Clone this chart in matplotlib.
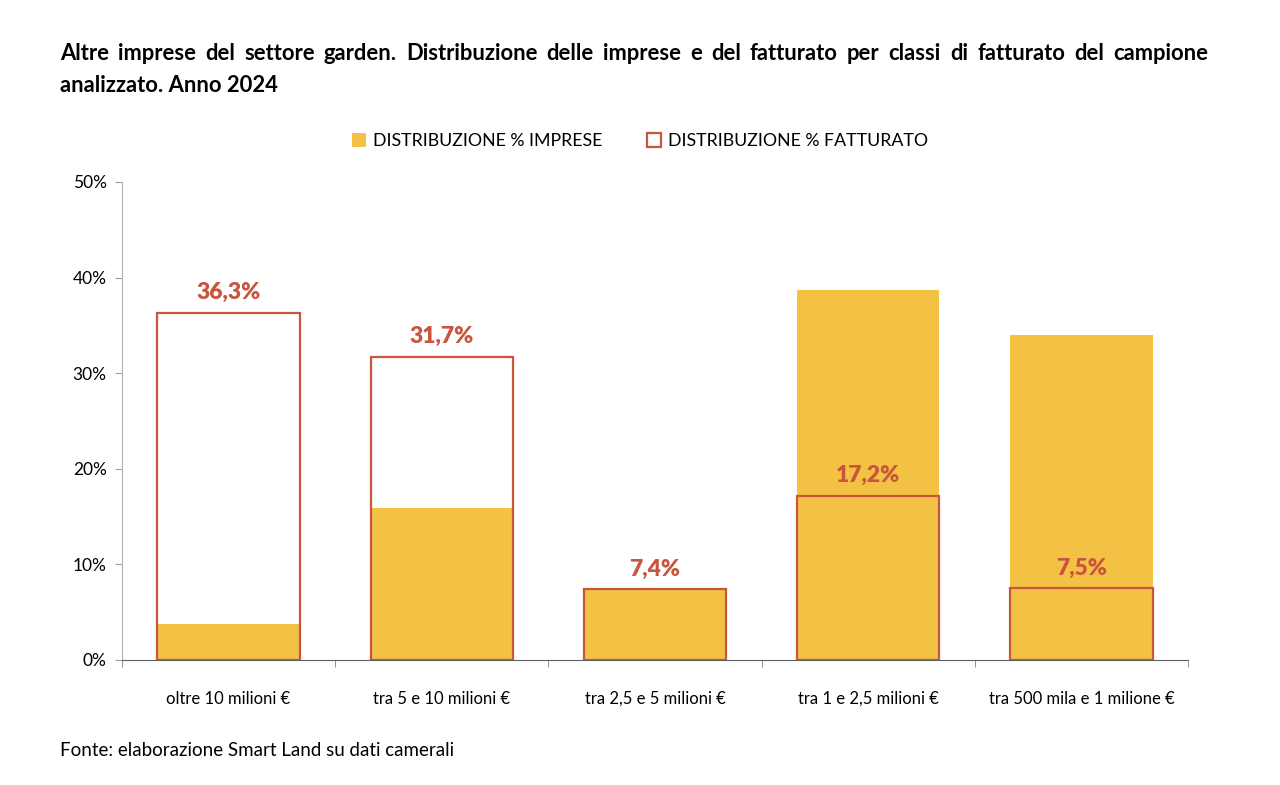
import matplotlib
matplotlib.use("Agg")
import matplotlib.pyplot as plt
import numpy as np
from matplotlib.ticker import FixedLocator, FuncFormatter

# dati
classi = ["oltre 10 milioni €", "tra 5 e 10 milioni €", "tra 2,5 e 5 milioni €",
          "tra 1 e 2,5 milioni €", "tra 500 mila e 1 milione €"]
imprese = [3.8, 15.9, 7.5, 38.7, 34.0]
fatturato = [36.3, 31.7, 7.4, 17.2, 7.5]

titolo1 = "Altre imprese del settore garden. Distribuzione delle imprese e del fatturato per classi di fatturato del campione"
titolo2 = "analizzato. Anno 2024"
fonte = "Fonte: elaborazione Smart Land su dati camerali"

giallo = "#F3C143"
rosso = "#C8553D"
font = ["Lato", "DejaVu Sans"]
plt.rcParams["font.family"] = font

fig = plt.figure(figsize=(12.8, 7.85), dpi=100)
ax = fig.add_axes([122 / 1280, 1 - 660 / 785, (1188 - 122) / 1280, (660 - 182) / 785])

x = np.arange(len(classi))
w = 0.667
ax.bar(x, imprese, w, color=giallo, zorder=2, label="DISTRIBUZIONE % IMPRESE")
ax.bar(x, fatturato, w, facecolor="none", edgecolor=rosso, linewidth=1.6, zorder=3,
       label="DISTRIBUZIONE % FATTURATO")

for xi, v in zip(x, fatturato):
    ax.annotate(f"{v:.1f}%".replace(".", ","), (xi, v), xytext=(0, 7),
                textcoords="offset points", ha="center", va="bottom",
                color=rosso, fontsize=16.5, fontweight="heavy")

ax.set_xlim(-0.5, len(classi) - 0.5)
ax.set_ylim(0, 50)
ax.set_yticks(np.arange(0, 51, 10))
ax.yaxis.set_major_formatter(FuncFormatter(lambda v, p: f"{v:.0f}%"))
ax.set_xticks(x)
ax.set_xticklabels(classi)
ax.xaxis.set_minor_locator(FixedLocator(np.arange(-0.5, len(classi), 1)))
ax.tick_params(axis="x", which="major", length=0, pad=22, labelsize=12)
ax.tick_params(axis="x", which="minor", length=5, color="#808080")
ax.tick_params(axis="y", length=5, color="#a0a0a0", labelsize=12.5, pad=6)

for s in ["top", "right"]:
    ax.spines[s].set_visible(False)
ax.spines["left"].set_color("#b0b0b0")
ax.spines["bottom"].set_color("#606060")

leg = fig.legend(loc="center", bbox_to_anchor=(640 / 1280, 1 - 141 / 785), ncol=2,
                 frameon=False, fontsize=12.8, handlelength=0.8, handleheight=0.8,
                 columnspacing=2.5, handletextpad=0.4)

# titolo giustificato: prima riga da 60 a 1208 px
renderer = fig.canvas.get_renderer()
parole = titolo1.split(" ")
testi = [fig.text(0, 1 - 53 / 785, p, fontsize=15.8, fontweight="bold", va="center", ha="left")
         for p in parole]
larghezze = [t.get_window_extent(renderer).width for t in testi]
spazio = (1208 - 60 - sum(larghezze)) / (len(parole) - 1)
pos = 60
for t, lw in zip(testi, larghezze):
    t.set_x(pos / 1280)
    pos += lw + spazio
fig.text(60 / 1280, 1 - 85 / 785, titolo2,
         fontsize=15.8, fontweight="bold", va="center", ha="left")
fig.text(60 / 1280, 1 - 750 / 785, fonte,
         fontsize=13.5, va="center", ha="left")

fig.savefig("out.png", dpi=100)
